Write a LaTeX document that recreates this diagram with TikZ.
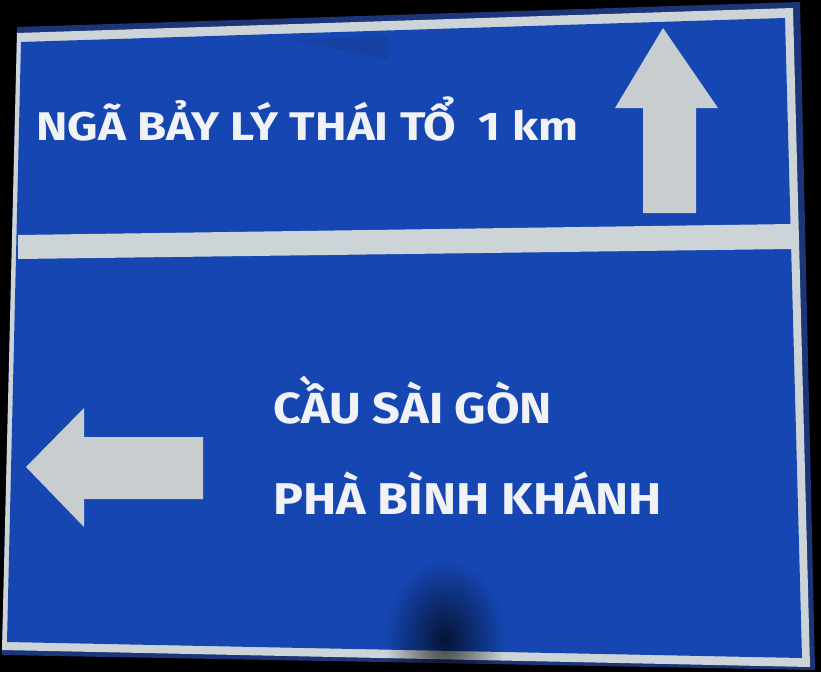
\documentclass[tikz,border=0pt]{standalone}
\usepackage{fontspec}
\usepackage{graphicx}
\usetikzlibrary{fadings}
\newfontfamily\signfont{Fira Sans}
\definecolor{signblue}{RGB}{21,70,178}
\definecolor{edgeblue}{RGB}{28,52,120}
\definecolor{bordergrey}{RGB}{205,212,215}
\definecolor{arrowgrey}{RGB}{200,206,208}
\definecolor{textwhite}{RGB}{240,242,246}
\tikzfading[name=softblob, inner color=transparent!0, outer color=transparent!100]
\newcommand\fitw[2]{\resizebox{#1}{\height}{#2}}
\begin{document}
\begin{tikzpicture}[x=1pt,y=-1pt,
  signtext/.style={text=textwhite,font=\signfont\bfseries,inner sep=0pt,anchor=base west},
  arrowshape/.style={fill=arrowgrey,draw=none}]
\fill[black] (0,0) rectangle (821,672);
\useasboundingbox (0,0) rectangle (821,672);
% sign edge
\fill[edgeblue] (17,27) -- (800,2) -- (815,670) -- (2,655) -- cycle;
% white border
\fill[bordergrey] (17,33) -- (793,8) -- (810,667) -- (2,650) -- cycle;
% blue face
\fill[signblue] (21,42) -- (785,18) -- (802,658) -- (7,642) -- cycle;
% separator band
\fill[bordergrey] (18,235) -- (792,224) -- (792,249) -- (18,259) -- cycle;
% shadow at top
\fill[edgeblue,opacity=0.25] (295,40) -- (388,36) -- (388,60) -- cycle;
% dark blob at bottom
\begin{scope}
\clip (17,27) -- (800,2) -- (815,670) -- (2,655) -- cycle;
\fill[black,opacity=0.7,path fading=softblob] (445,640) ellipse [x radius=60,y radius=80];
\end{scope}
% up arrow
\fill[arrowshape] (663,28) -- (718,108) -- (696,108) -- (696,213) -- (643,213) -- (643,108) -- (615,108) -- cycle;
% left arrow
\fill[arrowshape] (26,467) -- (84,408) -- (84,437) -- (203,437) -- (203,499) -- (84,499) -- (84,527) -- cycle;
% texts
\node[signtext,font=\signfont\bfseries\fontsize{40}{44}\selectfont] (t1) at (36,140) {\fitw{542pt}{NGÃ BẢY LÝ THÁI TỔ\ \ 1 km}};
\node[signtext,font=\signfont\bfseries\fontsize{43.5}{46}\selectfont] (t2) at (273,423) {\fitw{279pt}{CẦU SÀI GÒN}};
\node[signtext,font=\signfont\bfseries\fontsize{44.5}{48}\selectfont] (t3) at (273,514) {\fitw{389pt}{PHÀ BÌNH KHÁNH}};
\end{tikzpicture}
\end{document}
